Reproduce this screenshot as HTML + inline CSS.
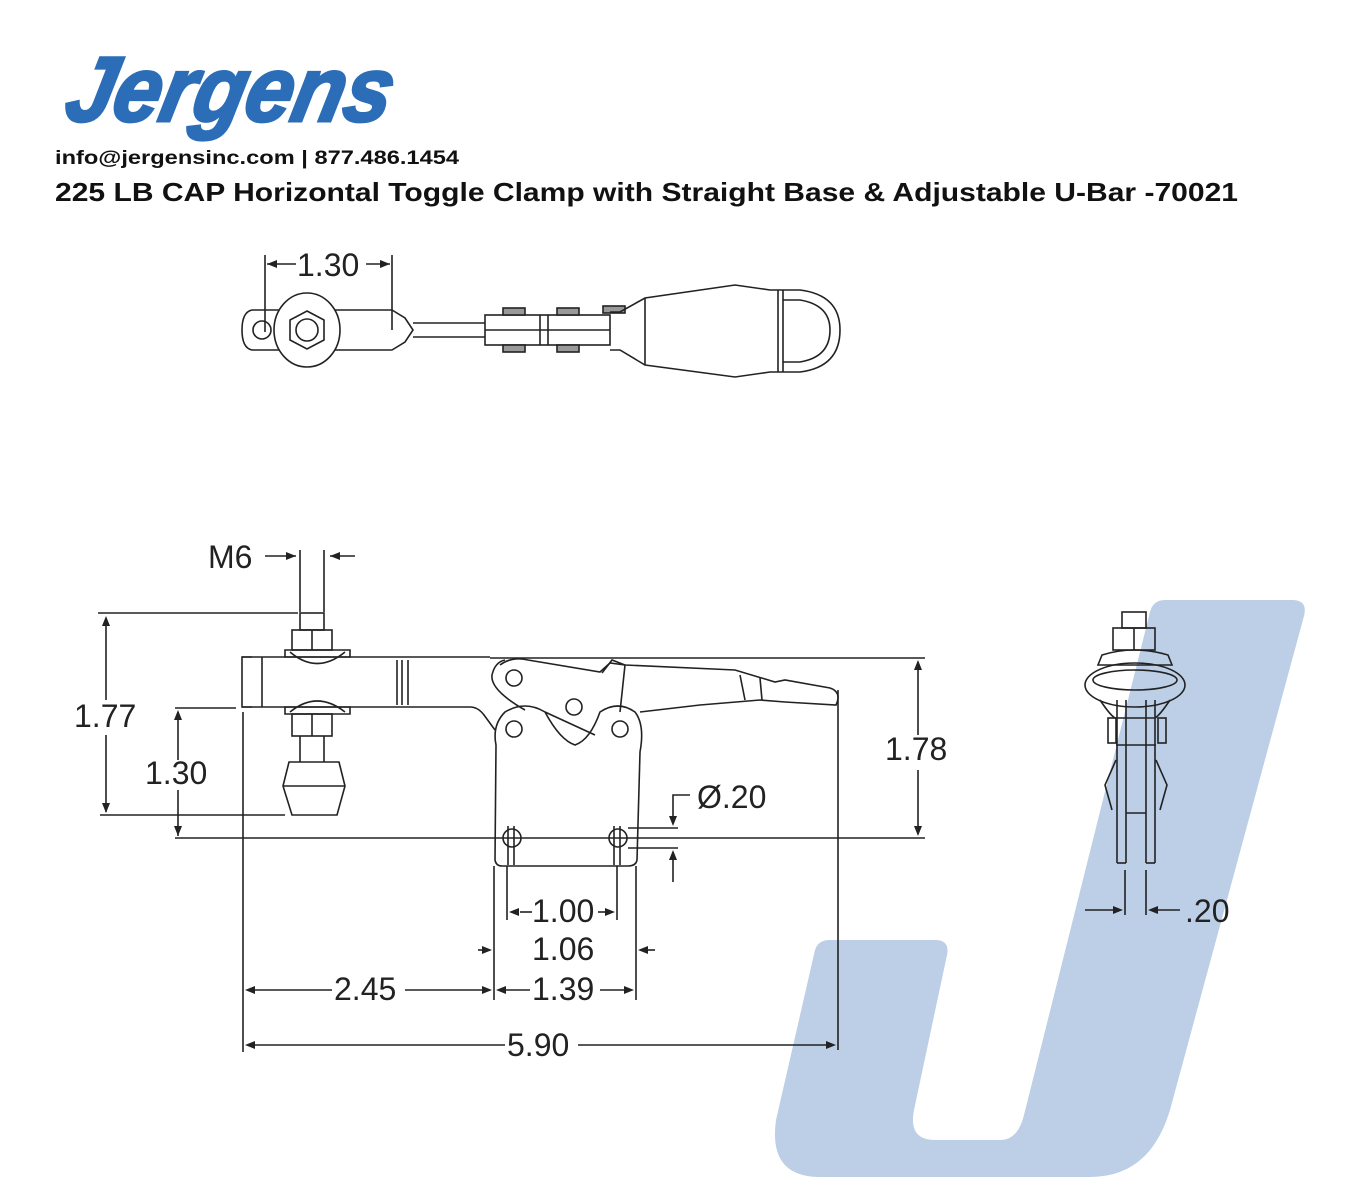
<!DOCTYPE html>
<html><head><meta charset="utf-8"><style>
html,body{margin:0;padding:0;background:#fff;}
body{width:1360px;height:1200px;overflow:hidden;position:relative;font-family:"Liberation Sans",sans-serif;}
</style></head><body>
<svg width="1360" height="1200" viewBox="0 0 1360 1200" xmlns="http://www.w3.org/2000/svg" style="position:absolute;left:0;top:0">
<!-- watermark J -->
<path d="M1165 600 L1292 600 Q1308 600 1304 616 L1170 1110 Q1150 1177 1090 1177 L820 1177 Q768 1177 776 1120 L815 950 Q818 940 830 940 L935 940 Q950 940 947 955 L914 1110 Q908 1140 935 1140 L1000 1140 Q1018 1140 1024 1115 L1150 612 Q1153 600 1165 600 Z" fill="#bccfe6"/>
<!-- logo -->
<text x="0" y="0" font-family="Liberation Sans" font-weight="bold" font-style="italic" font-size="92" fill="#2c6db8" stroke="#2c6db8" stroke-width="3" textLength="325" lengthAdjust="spacingAndGlyphs" transform="translate(62,121) skewX(-12)">Jergens</text>
<text x="55" y="164" font-weight="bold" font-size="19" fill="#111" textLength="404" lengthAdjust="spacingAndGlyphs">info@jergensinc.com | 877.486.1454</text>
<text x="55" y="201" font-weight="bold" font-size="26" fill="#111" textLength="1183" lengthAdjust="spacingAndGlyphs">225 LB CAP Horizontal Toggle Clamp with Straight Base &amp; Adjustable U-Bar -70021</text>

<g stroke="#222" stroke-width="1.6" fill="none">
<!-- TOP VIEW -->
<line x1="265" y1="255" x2="265" y2="332"/><line x1="392" y1="255" x2="392" y2="330"/>
<line x1="267" y1="264" x2="296" y2="264"/><line x1="366" y1="264" x2="390" y2="264"/>
<path d="M262 310 L252 310 Q242 312 242 330 Q242 348 252 350 L262 350"/>
<circle cx="262" cy="330" r="9"/>
<path d="M262 310 L392 310 L405 318 L413 330 L405 342 L392 350 L262 350"/>
<ellipse cx="307" cy="330" rx="33" ry="37" fill="#fff"/>
<polygon points="307,311 324,320 324,340 307,349 290,340 290,320"/>
<circle cx="307" cy="330" r="11"/>
<line x1="413" y1="323" x2="485" y2="323"/><line x1="413" y1="337" x2="485" y2="337"/>
<rect x="485" y="315" width="125" height="30"/>
<line x1="485" y1="330" x2="610" y2="330"/>
<rect x="503" y="308" width="22" height="7" fill="#999"/><rect x="503" y="345" width="22" height="7" fill="#999"/>
<rect x="557" y="308" width="22" height="7" fill="#999"/><rect x="557" y="345" width="22" height="7" fill="#999"/>
<rect x="603" y="306" width="22" height="7" fill="#999"/>
<line x1="540" y1="315" x2="540" y2="345"/><line x1="548" y1="315" x2="548" y2="345"/>
<path d="M610 312 L620 312 L645 298 L735 285 L770 290 Q785 290 800 290 Q840 295 840 330 Q840 367 800 372 L770 372 L735 377 L645 365 L620 350 L610 350"/>
<line x1="645" y1="298" x2="645" y2="365"/>
<line x1="778" y1="290" x2="778" y2="372"/><line x1="783" y1="290" x2="783" y2="372"/>
<path d="M783 300 L800 300 Q830 305 830 330 Q830 357 800 362 L783 362"/>

<!-- SIDE VIEW dimension lines -->
<line x1="98" y1="613" x2="298" y2="613"/>
<line x1="100" y1="815" x2="285" y2="815"/>
<line x1="106" y1="618" x2="106" y2="700"/><line x1="106" y1="735" x2="106" y2="812"/>
<line x1="175" y1="708" x2="236" y2="708"/>
<line x1="178" y1="712" x2="178" y2="760"/><line x1="178" y1="790" x2="178" y2="836"/>
<line x1="175" y1="838" x2="925" y2="838"/>
<line x1="243" y1="712" x2="243" y2="1052"/>
<line x1="300" y1="550" x2="300" y2="612"/><line x1="324" y1="550" x2="324" y2="612"/>
<line x1="265" y1="556" x2="296" y2="556"/><line x1="330" y1="556" x2="355" y2="556"/>
<line x1="490" y1="658" x2="925" y2="658"/>
<line x1="918" y1="662" x2="918" y2="735"/><line x1="918" y1="770" x2="918" y2="834"/>
<line x1="838" y1="690" x2="838" y2="1050"/>
<!-- arm -->
<path d="M252 657 L242 657 L242 707 L252 707"/>
<line x1="242" y1="657" x2="490" y2="657"/>
<path d="M242 707 L470 707 Q478 707 484 715 L495 730"/>
<line x1="262" y1="657" x2="262" y2="707"/>
<line x1="397" y1="660" x2="397" y2="705"/><line x1="402" y1="660" x2="402" y2="705"/><line x1="408" y1="660" x2="408" y2="705"/>
<!-- spindle -->
<rect x="300" y="613" width="24" height="17"/>
<rect x="292" y="630" width="40" height="20"/><line x1="312" y1="630" x2="312" y2="650"/>
<path d="M285 650 L350 650 L350 657 L285 657 Z"/>
<path d="M290 652 Q317 675 345 652"/>
<path d="M290 712 Q317 690 345 712"/>
<path d="M285 707 L350 707 L350 714 L285 714 Z"/>
<rect x="292" y="714" width="40" height="22"/><line x1="312" y1="714" x2="312" y2="736"/>
<line x1="300" y1="736" x2="300" y2="762"/><line x1="324" y1="736" x2="324" y2="762"/>
<path d="M289 762 L339 762 L345 786 L337 815 L292 815 L283 786 Z"/>
<line x1="283" y1="786" x2="345" y2="786"/>
<!-- body plate -->
<path d="M496 745 Q492 725 505 712 Q525 700 545 712 Q560 740 575 745 Q590 740 600 712 Q618 700 635 712 Q645 725 640 752 L637 860 Q636 866 628 866 L502 866 Q496 866 495 860 Z"/>
<circle cx="514" cy="729" r="8"/><circle cx="620" cy="729" r="8"/><circle cx="574" cy="707" r="8"/>
<!-- lever/link -->
<path d="M500 665 Q512 656 528 660 L600 672 L610 663 L625 665 L735 670 L775 682 L785 680 L830 688 Q842 692 836 705 L785 702 L760 700 L700 705 L640 712"/>
<path d="M525 710 Q490 690 492 675 Q495 662 505 660"/>
<circle cx="514" cy="678" r="8"/>
<line x1="545" y1="712" x2="595" y2="735"/>
<path d="M602 673 L612 660 L625 665 L620 712"/>
<line x1="740" y1="675" x2="745" y2="700"/><line x1="760" y1="678" x2="762" y2="700"/>
<!-- holes -->
<circle cx="512" cy="838" r="9"/><circle cx="618" cy="838" r="9"/>
<line x1="508" y1="826" x2="508" y2="865"/><line x1="514" y1="826" x2="514" y2="865"/>
<line x1="614" y1="826" x2="614" y2="865"/><line x1="620" y1="826" x2="620" y2="865"/>
<line x1="507" y1="866" x2="507" y2="920"/><line x1="617" y1="866" x2="617" y2="920"/>
<line x1="494" y1="866" x2="494" y2="1000"/><line x1="636" y1="866" x2="636" y2="1000"/>
<line x1="520" y1="912" x2="532" y2="912"/><line x1="598" y1="912" x2="610" y2="912"/>
<line x1="478" y1="950" x2="490" y2="950"/><line x1="640" y1="950" x2="655" y2="950"/>
<line x1="249" y1="990" x2="332" y2="990"/><line x1="405" y1="990" x2="490" y2="990"/>
<line x1="500" y1="990" x2="530" y2="990"/><line x1="600" y1="990" x2="630" y2="990"/>
<line x1="249" y1="1045" x2="505" y2="1045"/><line x1="578" y1="1045" x2="832" y2="1045"/>
<!-- Ø.20 -->
<line x1="628" y1="828" x2="678" y2="828"/><line x1="628" y1="848" x2="678" y2="848"/>
<path d="M690 795 L673 795 L673 822"/>
<line x1="673" y1="855" x2="673" y2="882"/>

<!-- END VIEW -->
<rect x="1122" y="612" width="24" height="16"/>
<rect x="1113" y="628" width="42" height="22"/><line x1="1134" y1="628" x2="1134" y2="650"/>
<path d="M1102 655 Q1134 645 1168 655 L1172 665 L1098 665 Z"/>
<ellipse cx="1135" cy="685" rx="50" ry="22"/>
<ellipse cx="1135" cy="680" rx="42" ry="10"/>
<path d="M1100 700 Q1110 715 1115 718 L1155 718 Q1160 715 1170 700"/>
<rect x="1108" y="718" width="8" height="25"/><rect x="1158" y="718" width="8" height="25"/>
<line x1="1116" y1="745" x2="1156" y2="745"/>
<line x1="1117" y1="700" x2="1117" y2="863"/><line x1="1126" y1="700" x2="1126" y2="863"/>
<line x1="1146" y1="700" x2="1146" y2="863"/><line x1="1155" y1="700" x2="1155" y2="863"/>
<line x1="1117" y1="863" x2="1126" y2="863"/><line x1="1146" y1="863" x2="1155" y2="863"/>
<line x1="1126" y1="813" x2="1146" y2="813"/>
<path d="M1116 760 L1105 785 L1112 810"/><path d="M1156 760 L1167 785 L1160 810"/>
<line x1="1125" y1="870" x2="1125" y2="915"/><line x1="1146" y1="870" x2="1146" y2="915"/>
<line x1="1085" y1="910" x2="1118" y2="910"/><line x1="1153" y1="910" x2="1180" y2="910"/>
</g>
<!-- arrowheads -->
<g fill="#222">
<polygon points="267,264 277,260 277,268"/><polygon points="390,264 380,260 380,268"/>
<polygon points="296,556 286,552 286,560"/><polygon points="330,556 340,552 340,560"/>
<polygon points="106,616 102,626 110,626"/><polygon points="106,813 102,803 110,803"/>
<polygon points="178,710 174,720 182,720"/><polygon points="178,836 174,826 182,826"/>
<polygon points="918,660 914,670 922,670"/><polygon points="918,836 914,826 922,826"/>
<polygon points="509,912 519,908 519,916"/><polygon points="615,912 605,908 605,916"/>
<polygon points="492,950 482,946 482,954"/><polygon points="638,950 648,946 648,954"/>
<polygon points="245,990 255,986 255,994"/><polygon points="492,990 482,986 482,994"/>
<polygon points="496,990 506,986 506,994"/><polygon points="634,990 624,986 624,994"/>
<polygon points="245,1045 255,1041 255,1049"/><polygon points="836,1045 826,1041 826,1049"/>
<polygon points="673,826 669,816 677,816"/><polygon points="673,850 669,860 677,860"/>
<polygon points="1123,910 1113,906 1113,914"/><polygon points="1148,910 1158,906 1158,914"/>
</g>
<g font-family="Liberation Sans" font-size="32" fill="#222">
<text x="297" y="276">1.30</text>
<text x="208" y="568">M6</text>
<text x="74" y="727">1.77</text>
<text x="145" y="784">1.30</text>
<text x="885" y="760">1.78</text>
<text x="697" y="808">Ø.20</text>
<text x="532" y="922">1.00</text>
<text x="532" y="960">1.06</text>
<text x="334" y="1000">2.45</text>
<text x="532" y="1000">1.39</text>
<text x="507" y="1056">5.90</text>
<text x="1185" y="922">.20</text>
</g>
</svg>
</body></html>
